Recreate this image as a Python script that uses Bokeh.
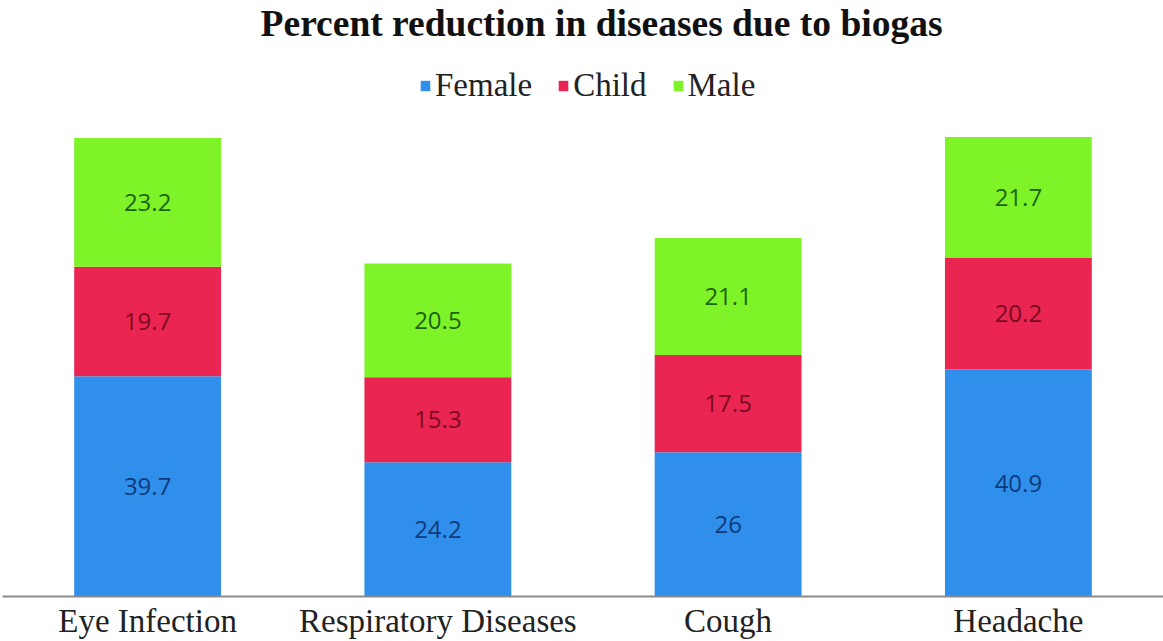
from bokeh.plotting import figure
from bokeh.models import ColumnDataSource, Label, Legend, LegendItem, Range1d, FactorRange
from bokeh.embed import file_html
from bokeh.resources import INLINE

# Stacked reduction percentages per disease
diseases = ["Eye Infection", "Respiratory Diseases", "Cough", "Headache"]
female = [39.7, 24.2, 26, 40.9]
child = [19.7, 15.3, 17.5, 20.2]
male = [23.2, 20.5, 21.1, 21.7]

series = ["Female", "Child", "Male"]
fills = ["#2f8fea", "#ea2552", "#7ef428"]
label_colors = ["#0e3b7c", "#7c0a1e", "#1c640f"]

title_text = "Percent reduction in diseases due to biogas"

W, H = 1163, 641
p = figure(
    x_range=FactorRange(*diseases, range_padding=0),
    y_range=Range1d(0, 107.4),
    width=W, height=H,
    output_backend="svg", toolbar_location=None,
    min_border_left=2, min_border_right=0,
    min_border_top=0, min_border_bottom=44,
)

src = ColumnDataSource(dict(disease=diseases, Female=female, Child=child, Male=male))
renderers = p.vbar_stack(series, x="disease", width=0.506, source=src,
                         fill_color=fills, line_color=None)

# Value labels centred inside each segment
base = [0.0] * len(diseases)
for vals, col in zip([female, child, male], label_colors):
    mids = [b + v / 2 for b, v in zip(base, vals)]
    txt = [("%g" % v) for v in vals]
    p.text(x=diseases, y=mids, text=txt, text_align="center", text_baseline="middle",
           text_color=col, text_font_size="24px", text_font={"value": "Open Sans"})
    base = [b + v for b, v in zip(base, vals)]

# Title drawn inside the top of the frame
p.add_layout(Label(x=2.064, y=(597 - 23) / 5.557, text=title_text,
                   text_align="center", text_baseline="middle",
                   text_font="Liberation Serif", text_font_style="bold",
                   text_font_size="37.5px", text_color="#111111"))

legend = Legend(
    items=[LegendItem(label=s, renderers=[r]) for s, r in zip(series, renderers)],
    orientation="horizontal", location=(417, 492),
    label_text_font="Liberation Serif", label_text_font_size="33px",
    label_text_color="#222222", glyph_width=12, glyph_height=13,
    label_standoff=4, spacing=25, padding=0, margin=0,
    border_line_color=None, background_fill_alpha=0,
)
p.add_layout(legend)

p.yaxis.visible = False
p.xgrid.visible = False
p.ygrid.visible = False
p.outline_line_color = None
p.xaxis.axis_line_color = "#8a8a8a"
p.xaxis.axis_line_width = 2
p.xaxis.major_tick_line_color = None
p.xaxis.minor_tick_line_color = None
p.xaxis.major_tick_out = 0
p.xaxis.major_tick_in = 0
p.xaxis.major_label_text_font = "Liberation Serif"
p.xaxis.major_label_text_font_size = "33px"
p.xaxis.major_label_text_color = "#222222"
p.xaxis.major_label_standoff = 6

open("out.html", "w").write(file_html(p, INLINE))
